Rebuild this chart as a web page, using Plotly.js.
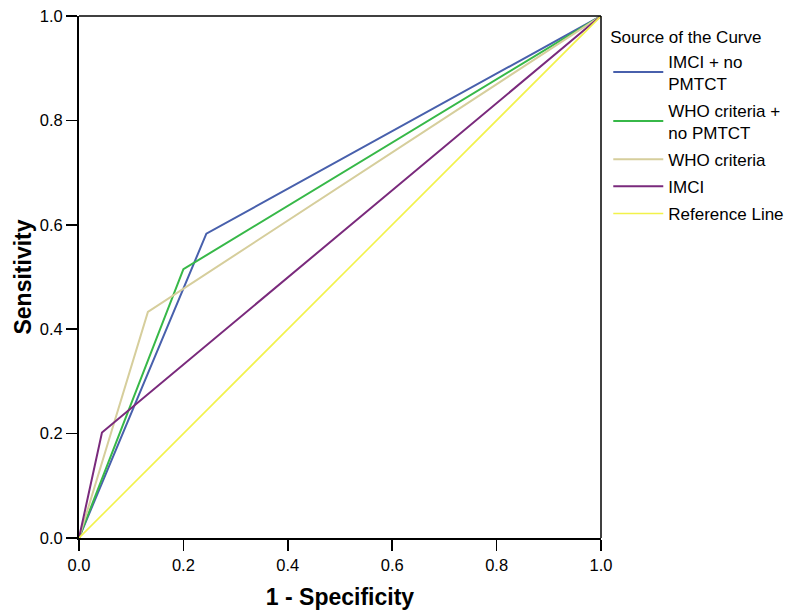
<!DOCTYPE html>
<html>
<head>
<meta charset="utf-8">
<script src="https://cdn.plot.ly/plotly-3.0.1.min.js"></script>
<style>html,body{margin:0;padding:0;background:#fff}#chart{width:800px;height:616px}</style>
</head>
<body>
<div id="chart"></div>
<script>
const seriesNames = ["IMCI + no<br>PMTCT", "WHO criteria +<br>no PMTCT", "WHO criteria", "IMCI", "Reference Line"];
const seriesColors = ["#4860AC", "#37B848", "#D6CE9C", "#7A2A7C", "#F2F24A"];
const fpr_imciNoPmtct = [0, 0.244, 1];
const tpr_imciNoPmtct = [0, 0.583, 1];
const fpr_whoNoPmtct = [0, 0.200, 1];
const tpr_whoNoPmtct = [0, 0.515, 1];
const fpr_who = [0, 0.132, 1];
const tpr_who = [0, 0.433, 1];
const fpr_imci = [0, 0.044, 1];
const tpr_imci = [0, 0.202, 1];
const fpr_ref = [0, 1];
const tpr_ref = [0, 1];
const tickVals = [0, 0.2, 0.4, 0.6, 0.8, 1.0];
const tickText = ["0.0", "0.2", "0.4", "0.6", "0.8", "1.0"];

const xs = [fpr_imciNoPmtct, fpr_whoNoPmtct, fpr_who, fpr_imci, fpr_ref];
const ys = [tpr_imciNoPmtct, tpr_whoNoPmtct, tpr_who, tpr_imci, tpr_ref];
const traces = xs.map((x, i) => ({
  x: x, y: ys[i], type: "scatter", mode: "lines", name: seriesNames[i],
  legendgroup: "g" + i,
  line: {color: seriesColors[i], width: i === 4 ? 1.6 : 2},
  hoverinfo: "skip"
}));

const layout = {
  width: 800, height: 616,
  margin: {l: 79, r: 198, t: 16, b: 78},
  paper_bgcolor: "#fff", plot_bgcolor: "#fff",
  font: {family: "Liberation Sans, Arial, sans-serif", color: "#000", size: 16},
  showlegend: true,
  legend: {
    x: 1.012, xanchor: "left", y: 0.99, yanchor: "top",
    title: {text: "Source of the Curve", font: {size: 17}},
    font: {size: 17}, tracegroupgap: 2, itemwidth: 50,
    bgcolor: "rgba(0,0,0,0)", borderwidth: 0
  },
  xaxis: {
    range: [0, 1], tickvals: tickVals, ticktext: tickText,
    ticks: "outside", ticklen: 11, tickwidth: 1.5, tickcolor: "#000",
    showline: true, linecolor: "#000", linewidth: 2, mirror: false,
    showgrid: false, zeroline: false,
    tickfont: {size: 16.5},
    title: {text: "<b>1 - Specificity</b>", font: {size: 23}, standoff: 16}
  },
  yaxis: {
    range: [0, 1], tickvals: tickVals, ticktext: tickText,
    ticks: "outside", ticklen: 11, tickwidth: 1.5, tickcolor: "#000",
    showline: true, linecolor: "#000", linewidth: 2, mirror: false,
    showgrid: false, zeroline: false,
    tickfont: {size: 16.5},
    title: {text: "<b>Sensitivity</b>", font: {size: 23}, standoff: 2}
  },
  shapes: [
    {type: "line", xref: "paper", yref: "paper", x0: 0, x1: 1, y0: 1, y1: 1, line: {color: "#000", width: 1.5}},
    {type: "line", xref: "paper", yref: "paper", x0: 1, x1: 1, y0: 0, y1: 1, line: {color: "#000", width: 1.5}}
  ]
};

Plotly.newPlot("chart", traces, layout, {displayModeBar: false, staticPlot: true});
</script>
</body>
</html>
